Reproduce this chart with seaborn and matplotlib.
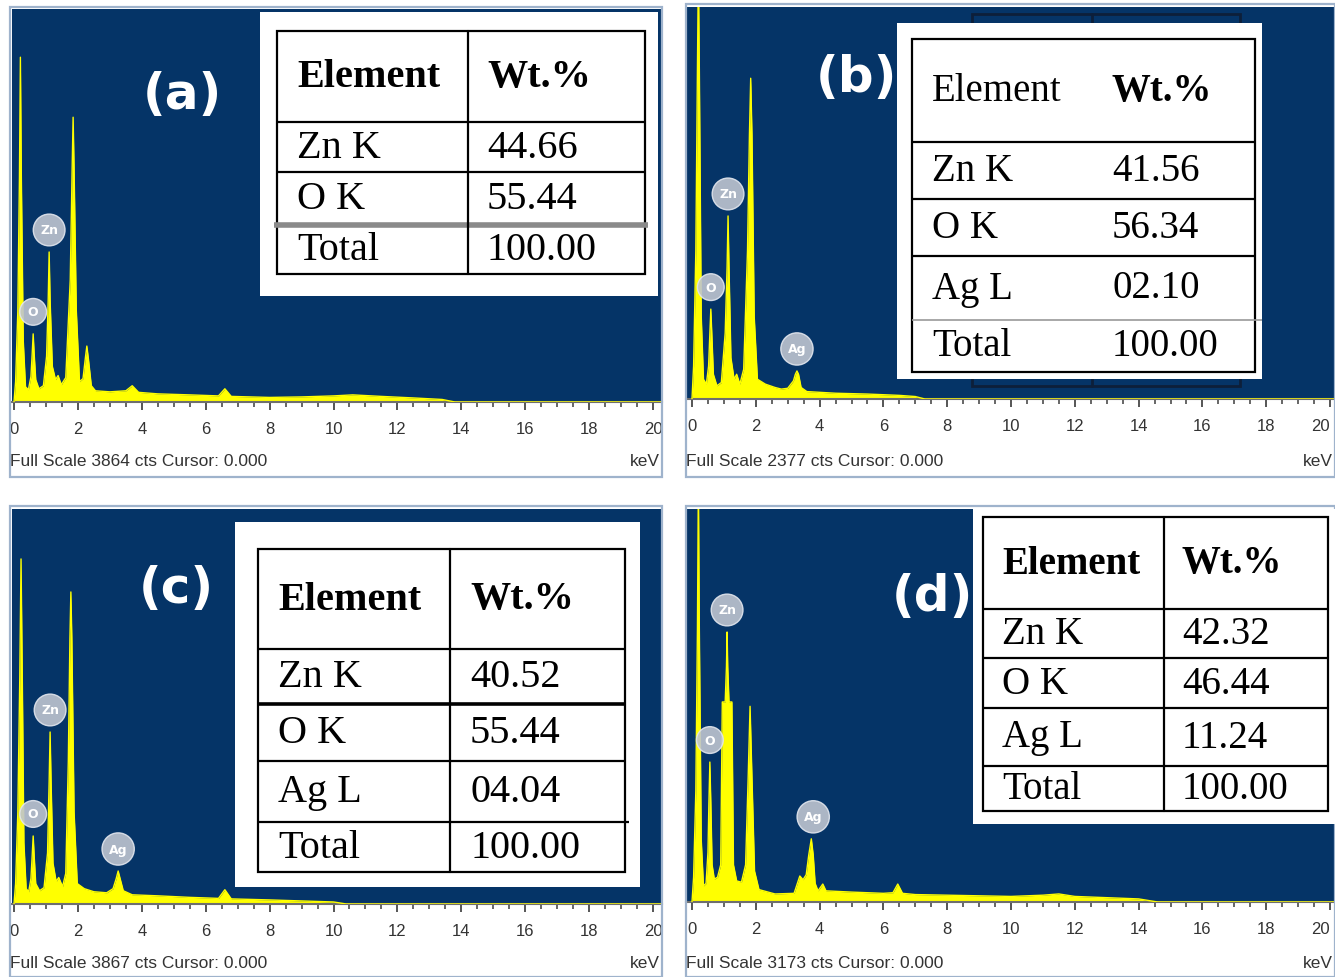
import numpy as np
import matplotlib
matplotlib.use("Agg")
import matplotlib.pyplot as plt
import seaborn as sns
from matplotlib.patches import Rectangle

# ------------------------------------------------------------------ data
panel_letters = ["(a)", "(b)", "(c)", "(d)"]
full_scale = [3864, 2377, 3867, 3173]
xtick_values = [0, 2, 4, 6, 8, 10, 12, 14, 16, 18, 20]

energy_a = [0.00, 0.05, 0.12, 0.17, 0.20, 0.23, 0.29, 0.36, 0.45, 0.53, 0.57, 0.60, 0.63, 0.68,
            0.78, 0.92, 1.02, 1.07, 1.10, 1.13, 1.20, 1.30, 1.38, 1.48, 1.62, 1.76, 1.82, 1.85,
            1.88, 1.95, 2.05, 2.16, 2.24, 2.28, 2.33, 2.42, 2.55, 3.00, 3.50, 3.70, 3.90, 4.50,
            5.50, 6.40, 6.60, 6.80, 8.00, 9.00, 10.00, 10.60, 11.50, 12.50, 13.40, 13.80, 20.30]
counts_a = [0, 200, 900, 2200, 3390, 2200, 600, 150, 120, 250, 480, 670, 480, 220,
            130, 160, 450, 1000, 1475, 1000, 350, 220, 260, 170, 240, 1200, 2300, 2800,
            2300, 900, 200, 230, 450, 550, 420, 160, 110, 100, 110, 160, 95, 80,
            70, 60, 130, 55, 45, 50, 60, 70, 55, 40, 25, 0, 0]

energy_b = [0.00, 0.05, 0.12, 0.17, 0.20, 0.23, 0.29, 0.36, 0.45, 0.52, 0.56, 0.59, 0.62, 0.67,
            0.78, 0.92, 1.04, 1.10, 1.13, 1.16, 1.22, 1.32, 1.40, 1.50, 1.62, 1.74, 1.80, 1.84,
            1.88, 1.95, 2.05, 2.30, 2.60, 2.80, 3.00, 3.18, 3.24, 3.29, 3.34, 3.42, 3.60, 4.50,
            5.50, 6.50, 7.00, 7.30, 20.30]
counts_b = [0, 200, 900, 2000, 2600, 2000, 500, 120, 90, 200, 400, 545, 400, 150,
            80, 100, 400, 800, 1110, 800, 250, 120, 150, 90, 180, 900, 1600, 1945,
            1600, 500, 120, 90, 70, 60, 65, 110, 150, 170, 150, 70, 45, 35,
            30, 22, 15, 0, 0]

energy_c = [0.00, 0.05, 0.12, 0.18, 0.22, 0.26, 0.31, 0.38, 0.46, 0.53, 0.57, 0.60, 0.63, 0.68,
            0.80, 0.94, 1.05, 1.10, 1.13, 1.16, 1.22, 1.32, 1.40, 1.52, 1.62, 1.70, 1.75, 1.78,
            1.81, 1.88, 1.98, 2.20, 2.50, 2.90, 3.10, 3.20, 3.26, 3.32, 3.42, 3.70, 4.50, 5.50,
            6.40, 6.60, 6.80, 8.00, 9.00, 10.00, 10.40, 20.30]
counts_c = [0, 200, 900, 2200, 3378, 2200, 600, 150, 120, 250, 480, 666, 480, 200,
            130, 160, 500, 1200, 1684, 1200, 400, 220, 260, 170, 300, 1400, 2600, 3055,
            2600, 900, 200, 150, 120, 110, 150, 250, 323, 250, 130, 90, 80, 65,
            55, 140, 50, 40, 30, 20, 0, 0]

energy_d = [0.00, 0.05, 0.12, 0.17, 0.20, 0.23, 0.29, 0.36, 0.44, 0.50, 0.53, 0.56, 0.59, 0.63,
            0.70, 0.80, 0.90, 0.95, 1.04, 1.08, 1.10, 1.12, 1.16, 1.25, 1.30, 1.40, 1.55, 1.68,
            1.76, 1.82, 1.88, 1.96, 2.10, 2.60, 3.20, 3.38, 3.48, 3.58, 3.66, 3.74, 3.80, 3.86,
            3.95, 4.10, 4.20, 5.00, 6.00, 6.30, 6.45, 6.60, 7.00, 8.00, 9.00, 10.00, 11.00,
            11.50, 12.00, 13.00, 14.00, 14.60, 20.30]
counts_d = [0, 200, 900, 2200, 3400, 2200, 500, 130, 150, 400, 800, 1130, 800, 300,
            185, 200, 300, 1615, 1615, 1900, 2180, 1900, 1615, 1615, 300, 170, 160, 300,
            1000, 1580, 1000, 250, 100, 65, 70, 210, 180, 220, 380, 510, 380, 150,
            90, 145, 90, 80, 70, 75, 145, 70, 60, 55, 50, 45, 55,
            65, 45, 35, 25, 0, 0]

# element markers: (symbol, energy keV, peak counts)
badges_a = [("O", 0.60, 670), ("Zn", 1.10, 1475)]
badges_b = [("O", 0.59, 545), ("Zn", 1.13, 1110), ("Ag", 3.29, 170)]
badges_c = [("O", 0.60, 666), ("Zn", 1.13, 1684), ("Ag", 3.26, 323)]
badges_d = [("O", 0.56, 1130), ("Zn", 1.10, 2180), ("Ag", 3.80, 510)]

table_header = ["Element", "Wt.%"]
elements_a = ["Zn K", "O K", "Total"]
wt_a = ["44.66", "55.44", "100.00"]
elements_b = ["Zn K", "O K", "Ag L", "Total"]
wt_b = ["41.56", "56.34", "02.10", "100.00"]
elements_c = ["Zn K", "O K", "Ag L", "Total"]
wt_c = ["40.52", "55.44", "04.04", "100.00"]
elements_d = ["Zn K", "O K", "Ag L", "Total"]
wt_d = ["42.32", "46.44", "11.24", "100.00"]

# ------------------------------------------------------------------ style
W, H = 1335, 978
NAVY = "#053467"
YELLOW = "#FFFF00"
sns.set_style("white")

AX_FONT = "Liberation Sans"
TICK_SIZE = 12
FOOT_SIZE = 12.5
SERIF = "Liberation Serif"
PT = 0.72  # points per pixel at dpi=100

fig = plt.figure(figsize=(W / 100, H / 100), dpi=100)
fig.patch.set_facecolor("white")


def frac(x0, y0, x1, y1):
    return [x0 / W, 1 - y1 / H, (x1 - x0) / W, (y1 - y0) / H]


# pixel rects of the spectrum areas and pixel position of 0 keV / 20 keV
panels = [
    dict(rect=(12, 10, 662, 403), x0=14, x20=653, E=energy_a, C=counts_a, badges=badges_a),
    dict(rect=(686, 8, 1335, 400), x0=692, x20=1330, E=energy_b, C=counts_b, badges=badges_b),
    dict(rect=(12, 510, 662, 905), x0=14, x20=653, E=energy_c, C=counts_c, badges=badges_c),
    dict(rect=(686, 510, 1335, 903), x0=692, x20=1330, E=energy_d, C=counts_d, badges=badges_d),
]

for i, p in enumerate(panels):
    x0, y0, x1, y1 = p["rect"]
    ax = fig.add_axes(frac(x0, y0, x1, y1))
    ax.set_facecolor(NAVY)
    scale = (p["x20"] - p["x0"]) / 20.0
    ax.set_xlim(-(p["x0"] - x0) / scale, (x1 - p["x0"]) / scale)
    ax.set_ylim(0, full_scale[i])
    E = np.array(p["E"], dtype=float)
    C = np.array(p["C"], dtype=float)
    ax.fill_between(E, 0, C, color=YELLOW, lw=0, zorder=2)
    sns.lineplot(x=E, y=C, ax=ax, color=YELLOW, lw=1.0, estimator=None, sort=False, zorder=3)
    for sym, e, c in p["badges"]:
        ax.annotate(sym, xy=(e, c), xytext=(0, 22 * PT), textcoords="offset points",
                    ha="center", va="center", fontsize=9, color="white", fontweight="bold",
                    bbox=dict(boxstyle="circle,pad=0.55", fc="#bfc5d0", ec="#e2e6ee",
                              lw=1, alpha=0.9), zorder=5, annotation_clip=False)
    ax.set_xticks(xtick_values)
    ax.set_xticklabels([str(v) for v in xtick_values], fontfamily=AX_FONT, fontsize=TICK_SIZE)
    if p["x20"] > 1300:
        ax.get_xticklabels()[-1].set_horizontalalignment("right")
    ax.set_xticks(np.arange(0, 20.01, 0.5), minor=True)
    ax.set_yticks([])
    ax.tick_params(axis="x", which="both", bottom=True, top=False)
    ax.tick_params(axis="x", which="major", direction="out", length=8 * PT, width=1.4,
                   color="#555555", labelcolor="#333333", pad=11 * PT)
    ax.tick_params(axis="x", which="minor", direction="out", length=5 * PT, width=1.4,
                   color="#666666")
    for s in ["top", "right", "left"]:
        ax.spines[s].set_visible(False)
    ax.spines["bottom"].set_color("#6f6f6f")
    ax.spines["bottom"].set_linewidth(1.5)
    ax.set_xlabel("")
    ax.set_ylabel("")

# ------------------------------------------------------------------ overlay
ov = fig.add_axes([0, 0, 1, 1], zorder=10)
ov.set_xlim(0, W)
ov.set_ylim(H, 0)
ov.axis("off")
ov.patch.set_alpha(0)

# panel frames
frames = [(10, 8, 662, 478), (686, 5, 1335, 478), (10, 507, 662, 978), (686, 507, 1335, 978)]
for (fx0, fy0, fx1, fy1) in frames:
    ov.add_patch(Rectangle((fx0, fy0), fx1 - fx0, fy1 - fy0, fill=False, ec="#9fb3cc", lw=1.6,
                           zorder=1))

# footer texts
footer = [(10, 660, 461), (686, 1333, 461), (10, 660, 963), (686, 1333, 963)]
for i, (lx, rx, fy) in enumerate(footer):
    ov.text(lx, fy, f"Full Scale {full_scale[i]} cts Cursor: 0.000", ha="left", va="center",
            fontfamily=AX_FONT, fontsize=FOOT_SIZE, color="#333333")
    ov.text(rx, fy, "keV", ha="right", va="center", fontfamily=AX_FONT, fontsize=FOOT_SIZE,
            color="#333333")

# panel letters
letter_pos = [(182, 95), (856, 78), (176, 589), (932, 597)]
for (lx, ly), lab in zip(letter_pos, panel_letters):
    ov.text(lx, ly, lab, ha="center", va="center", fontsize=36, fontweight="bold",
            color="white", fontfamily="DejaVu Sans", zorder=1)

# ghost frame behind table (b)
ov.add_patch(Rectangle((972, 15), 268, 372, fill=False, ec="#0d1f3a", lw=2, zorder=1.2))
ov.plot([1092, 1092], [15, 387], color="#0d1f3a", lw=2, zorder=1.2)


def draw_table(box, grid, col_x, rows_y, text_x, header, col1, col2, fs_body, fs_head,
               head_weights, line_styles, grid_col=True):
    bx0, by0, bx1, by1 = box
    ov.add_patch(Rectangle((bx0, by0), bx1 - bx0, by1 - by0, fc="white", ec="none", zorder=2))
    gx0, gx1 = grid
    ov.add_patch(Rectangle((gx0, rows_y[0]), gx1 - gx0, rows_y[-1] - rows_y[0], fill=False,
                           ec="black", lw=1.6, zorder=3))
    for k, yy in enumerate(rows_y[1:-1]):
        st = line_styles.get(k, dict())
        ov.plot([st.get("x0", gx0), st.get("x1", gx1)], [yy, yy], color=st.get("c", "black"),
                lw=st.get("lw", 1.6), solid_capstyle="butt", zorder=3)
    if grid_col:
        ov.plot([col_x, col_x], [rows_y[0], rows_y[-1]], color="black", lw=1.6, zorder=3)
    cells = [header] + [[a, b] for a, b in zip(col1, col2)]
    for r, (t1, t2) in enumerate(cells):
        yc = (rows_y[r] + rows_y[r + 1]) / 2
        if r == 0:
            ov.text(text_x[0], yc, t1, ha="left", va="center", fontfamily=SERIF,
                    fontsize=fs_head, fontweight=head_weights[0], color="black", zorder=4)
            ov.text(text_x[1], yc, t2, ha="left", va="center", fontfamily=SERIF,
                    fontsize=fs_head, fontweight=head_weights[1], color="black", zorder=4)
        else:
            ov.text(text_x[0], yc, t1, ha="left", va="center", fontfamily=SERIF,
                    fontsize=fs_body, color="black", zorder=4)
            ov.text(text_x[1], yc, t2, ha="left", va="center", fontfamily=SERIF,
                    fontsize=fs_body, color="black", zorder=4)


draw_table((260, 13, 658, 297), (277, 645), 468, [32, 123, 173, 226, 275], (297, 487),
           table_header, elements_a, wt_a, 29, 29, ("bold", "bold"),
           {2: dict(c="#8a8a8a", lw=4, x0=274, x1=648)})
draw_table((897, 24, 1262, 380), (912, 1255), 1090, [40, 143, 200, 257, 321, 373], (932, 1112),
           table_header, elements_b, wt_b, 28, 28, ("normal", "bold"),
           {3: dict(c="#9a9a9a", lw=1.2, x0=912, x1=1262)}, grid_col=False)
draw_table((235, 523, 640, 888), (258, 625), 450, [550, 650, 705, 762, 823, 873], (278, 470),
           table_header, elements_c, wt_c, 29, 29, ("bold", "bold"),
           {1: dict(lw=2.6), 3: dict(x1=629)})
draw_table((973, 510, 1335, 825), (983, 1328), 1164, [518, 610, 659, 709, 767, 812], (1002, 1182),
           table_header, elements_d, wt_d, 28, 28, ("bold", "bold"), {})

fig.savefig("out.png", dpi=100)
